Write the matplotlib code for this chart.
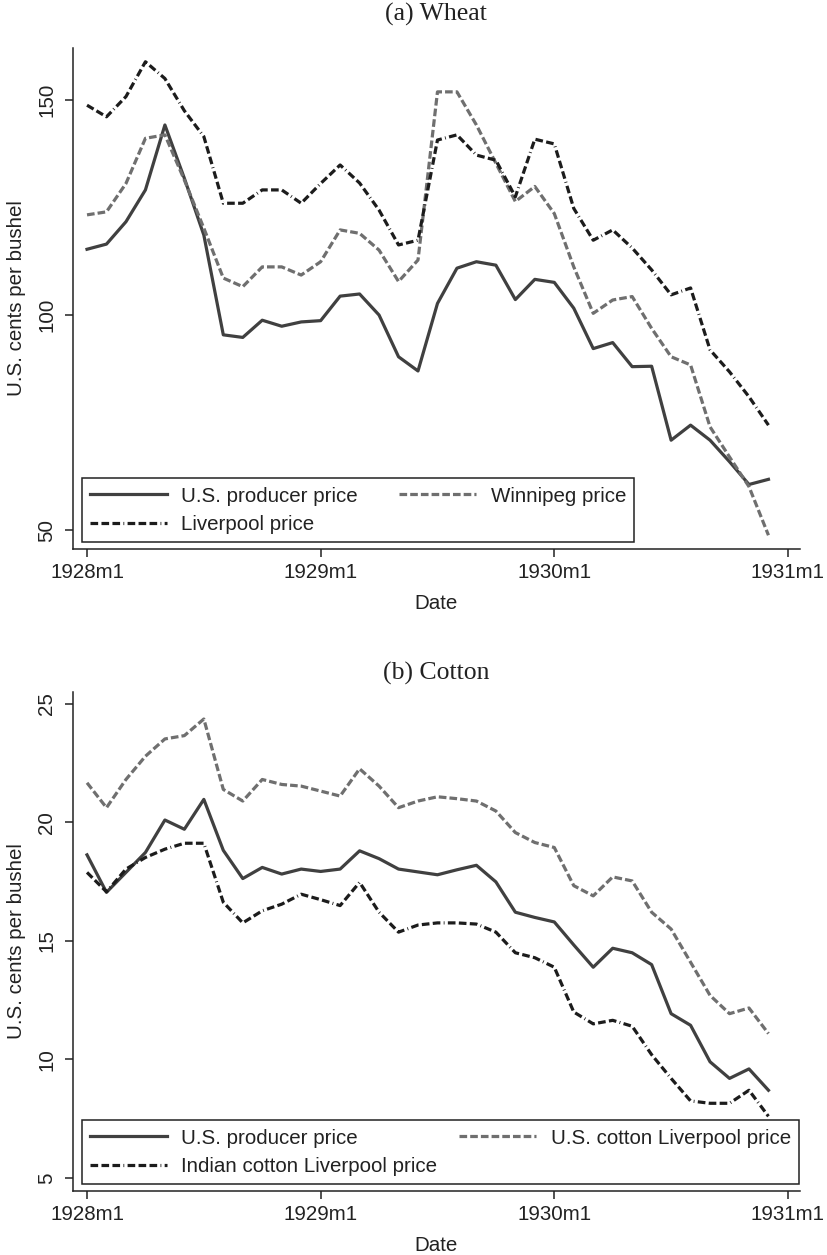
import matplotlib
matplotlib.use("Agg")
import matplotlib.pyplot as plt

# Monthly prices, 1928m1 to 1930m12 (36 months)
mois = list(range(36))

# (a) Wheat, U.S. cents per bushel
ble_producteur = [115.3, 116.5, 121.7, 129.1, 144.2, 131.8, 118.6, 95.4, 94.8, 98.8,
                  97.4, 98.4, 98.7, 104.4, 104.9, 100.0, 90.3, 87.0, 102.7, 110.9,
                  112.4, 111.6, 103.6, 108.3, 107.6, 101.6, 92.2, 93.6, 88.0, 88.1,
                  70.9, 74.4, 70.9, 65.9, 60.6, 61.8]
ble_winnipeg = [123.3, 124.0, 130.6, 141.1, 141.9, 131.4, 120.2, 108.6, 106.6, 111.2,
                111.2, 109.3, 112.4, 119.8, 119.0, 115.1, 107.8, 112.8, 151.9, 151.9,
                144.2, 135.3, 126.4, 129.9, 123.6, 111.2, 100.4, 103.5, 104.3, 96.9,
                90.3, 88.4, 74.0, 67.0, 60.1, 48.8]
ble_liverpool = [148.8, 146.1, 150.8, 158.9, 155.0, 147.5, 141.5, 126.0, 126.0, 129.1,
                 129.1, 126.0, 130.6, 134.9, 130.7, 124.4, 116.3, 117.4, 140.7, 141.9,
                 137.2, 136.0, 127.5, 140.9, 139.8, 124.8, 117.4, 119.8, 115.6, 110.5,
                 104.7, 106.3, 91.9, 86.8, 81.0, 74.4]

# (b) Cotton
coton_producteur = [18.63, 17.05, 17.89, 18.73, 20.10, 19.71, 20.97, 18.82, 17.63, 18.10,
                    17.82, 18.03, 17.93, 18.03, 18.80, 18.47, 18.03, 17.91, 17.79, 18.00,
                    18.19, 17.49, 16.21, 15.99, 15.80, 14.83, 13.89, 14.69, 14.50, 14.00,
                    11.93, 11.44, 9.90, 9.20, 9.60, 8.70]
coton_us_liverpool = [21.67, 20.62, 21.81, 22.79, 23.52, 23.66, 24.36, 21.39, 20.90, 21.81,
                      21.60, 21.53, 21.32, 21.11, 22.26, 21.53, 20.62, 20.90, 21.08, 21.00,
                      20.90, 20.48, 19.57, 19.15, 18.94, 17.33, 16.90, 17.70, 17.53, 16.21,
                      15.50, 14.10, 12.70, 11.93, 12.17, 11.09]
coton_inde_liverpool = [17.89, 17.07, 18.03, 18.52, 18.87, 19.12, 19.12, 16.63, 15.76, 16.27,
                        16.55, 16.97, 16.74, 16.49, 17.47, 16.21, 15.37, 15.67, 15.76, 15.76,
                        15.71, 15.37, 14.50, 14.29, 13.89, 12.00, 11.50, 11.65, 11.40, 10.20,
                        9.20, 8.25, 8.15, 8.15, 8.70, 7.60]

positions_x = [0, 12, 24, 36]
etiquettes_x = ["1928m1", "1929m1", "1930m1", "1931m1"]
ticks_ble = [50, 100, 150]
ticks_coton = [5, 10, 15, 20, 25]

# Line styles
GRIS_FONCE = "#404040"
GRIS_CLAIR = "#6f6f6f"
NOIR = "#1c1c1c"
TIRETS = (0, (5.5, 2.2))
TIRETS_POINT = (0, (5.5, 2.4, 5.5, 2.4, 5.5, 2.4, 0.6, 2.4))

plt.rcParams["font.family"] = ["Liberation Sans", "DejaVu Sans"]
plt.rcParams["lines.scale_dashes"] = False

fig = plt.figure(figsize=(8.27, 12.55), dpi=100)

W, H = 827, 1255


def creer_axe(gauche, droite, haut, bas):
    return fig.add_axes([gauche / W, 1 - bas / H, (droite - gauche) / W, (bas - haut) / H])


def habiller(ax, ticks_y, titre, y_titre):
    for cote in ["top", "right"]:
        ax.spines[cote].set_visible(False)
    for cote in ["left", "bottom"]:
        ax.spines[cote].set_linewidth(1.1)
        ax.spines[cote].set_color("#222222")
    ax.set_xticks(positions_x)
    ax.set_xticklabels(etiquettes_x)
    ax.set_yticks(ticks_y)
    ax.set_yticklabels([str(t) for t in ticks_y], rotation=90, va="center")
    ax.tick_params(axis="both", direction="out", length=6, width=1.1,
                   color="#222222", labelsize=14.8, labelcolor="#222222")
    ax.tick_params(axis="x", pad=4)
    ax.tick_params(axis="y", pad=6)
    ax.set_xlabel("Date", fontsize=14.8, color="#222222", labelpad=9)
    ax.set_ylabel("U.S. cents per bushel", fontsize=14.8, color="#222222", labelpad=8)
    fig.text(436 / W, 1 - y_titre / H, titre, ha="center", va="center",
             family="Liberation Serif", fontsize=18.5, color="#222222")


def legende(ax, lignes, colonnes_espace):
    # ncol=2 fills column by column: order the entries so they read row by row
    a, b, c = lignes
    ordre = [a, c, b]
    leg = ax.legend(ordre, [l.get_label() for l in ordre],
                    loc="lower left", bbox_to_anchor=(0.012, 0.014), ncol=2,
                    fontsize=14.8, frameon=True, fancybox=False, framealpha=1,
                    edgecolor="#222222", handlelength=3.75, handletextpad=0.7,
                    columnspacing=colonnes_espace, labelspacing=0.45, borderpad=0.4,
                    borderaxespad=0)
    leg.get_frame().set_linewidth(1.1)
    for t in leg.get_texts():
        t.set_color("#222222")


# (a) Wheat
ax1 = creer_axe(73, 800, 48, 549)
l1, = ax1.plot(mois, ble_producteur, color=GRIS_FONCE, lw=2.3, label="U.S. producer price")
l2, = ax1.plot(mois, ble_winnipeg, color=GRIS_CLAIR, lw=2.3, linestyle=TIRETS,
               label="Winnipeg price")
l3, = ax1.plot(mois, ble_liverpool, color=NOIR, lw=2.3, linestyle=TIRETS_POINT,
               label="Liverpool price")
ax1.set_xlim(-0.72, 36.62)
ax1.set_ylim(45.6, 162.1)
habiller(ax1, ticks_ble, "(a) Wheat", 14)
legende(ax1, [l1, l2, l3], 2.0)

# (b) Cotton
ax2 = creer_axe(73, 800, 692, 1191)
m1, = ax2.plot(mois, coton_producteur, color=GRIS_FONCE, lw=2.3, label="U.S. producer price")
m2, = ax2.plot(mois, coton_us_liverpool, color=GRIS_CLAIR, lw=2.3, linestyle=TIRETS,
               label="U.S. cotton Liverpool price")
m3, = ax2.plot(mois, coton_inde_liverpool, color=NOIR, lw=2.3, linestyle=TIRETS_POINT,
               label="Indian cotton Liverpool price")
ax2.set_xlim(-0.72, 36.62)
ax2.set_ylim(4.45, 25.5)
habiller(ax2, ticks_coton, "(b) Cotton", 673)
legende(ax2, [m1, m2, m3], 1.07)

fig.savefig("out.png", dpi=100, facecolor="white")
